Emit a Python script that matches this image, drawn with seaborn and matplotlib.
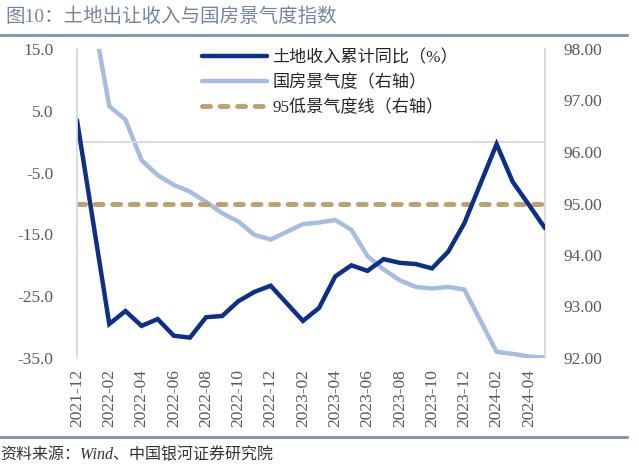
import matplotlib
matplotlib.use('Agg')
import matplotlib.pyplot as plt
import seaborn as sns
import pandas as pd
from matplotlib.lines import Line2D

months = ['2021-12', '2022-01', '2022-02', '2022-03', '2022-04', '2022-05', '2022-06',
          '2022-07', '2022-08', '2022-09', '2022-10', '2022-11', '2022-12',
          '2023-01', '2023-02', '2023-03', '2023-04', '2023-05', '2023-06',
          '2023-07', '2023-08', '2023-09', '2023-10', '2023-11', '2023-12',
          '2024-01', '2024-02', '2024-03', '2024-04', '2024-05']

land_yoy = [3.5, None, -29.5, -27.4, -29.8, -28.7, -31.4, -31.7, -28.4, -28.2, -25.8,
            -24.3, -23.3, None, -29.0, -26.9, -21.8, -20.0, -20.9, -19.0, -19.6, -19.8,
            -20.5, -17.8, -13.2, None, -0.4, -6.5, -10.2, -14.0]

climate_idx = [100.36, None, 96.89, 96.63, 95.84, 95.55, 95.36, 95.23, 95.03, 94.81,
               94.65, 94.39, 94.30, None, 94.60, 94.63, 94.68, 94.49, 93.98, 93.72,
               93.51, 93.38, 93.35, 93.38, 93.33, None, 92.12, 92.08, 92.03, 92.01]

threshold = [95.0] * 30

left_ticks = [-35, -25, -15, -5, 5, 15]
right_ticks = [92, 93, 94, 95, 96, 97, 98]

labels = ['土地收入累计同比（%）', '国房景气度（右轴）', '95低景气度线（右轴）']
title = '图10：土地出让收入与国房景气度指数'
source = '资料来源：Wind、中国银河证券研究院'

sns.set_theme(style='white')
plt.rcParams['font.family'] = ['Liberation Serif', 'Noto Sans CJK SC', 'DejaVu Sans']

df = pd.DataFrame({'pos': list(range(len(months))), 'month': months,
                   'land': land_yoy, 'idx': climate_idx, 'th': threshold})

fig = plt.figure(figsize=(6.39, 4.70), dpi=100)
ax = fig.add_axes([77 / 639, 1 - 358 / 470, 468 / 639, 309 / 470])
ax2 = ax.twinx()
ax.set_zorder(ax2.get_zorder() + 1)
ax.patch.set_visible(False)

DARK = '#0C2F8A'
LIGHT = '#A6BCE2'
TAN = '#BFA06E'
GRID = '#D9D9D9'
TICK = '#595959'

ax.axhline(0, color=GRID, lw=1.3, zorder=0)

sns.lineplot(data=df.dropna(subset=['idx']), x='pos', y='idx', ax=ax2,
             color=LIGHT, lw=3.2, label=labels[1], solid_joinstyle='miter')
sns.lineplot(data=df, x='pos', y='th', ax=ax2, color=TAN, lw=3.5,
             linestyle=(0, (1.65, 1.96)), dash_capstyle='round', label=labels[2])
sns.lineplot(data=df.dropna(subset=['land']), x='pos', y='land', ax=ax,
             color=DARK, lw=3.2, label=labels[0], solid_joinstyle='miter')

for a in (ax, ax2):
    if a.get_legend() is not None:
        a.get_legend().remove()
    a.set_xlabel('')
    a.set_ylabel('')
    a.grid(False)

ax.set_xlim(0, len(months) - 1)
ax.set_ylim(-35, 15)
ax2.set_ylim(92, 98)

ax.set_yticks(left_ticks)
ax.set_yticklabels([f'{v:.1f}' for v in left_ticks])
ax2.set_yticks(right_ticks)
ax2.set_yticklabels([f'{v:.2f}' for v in right_ticks])
ax.set_xticks(df['pos'][::2])
ax.set_xticklabels(df['month'][::2], rotation=90)

ax.tick_params(axis='y', length=0, pad=17, labelsize=12.5, labelcolor=TICK)
ax2.tick_params(axis='y', length=0, pad=13, labelsize=12.5, labelcolor=TICK)
ax.tick_params(axis='x', length=0, pad=8, labelsize=12.5, labelcolor=TICK)

for a in (ax, ax2):
    for s in a.spines.values():
        s.set_visible(False)
ax.spines['left'].set_visible(True)
ax.spines['left'].set_color(GRID)
ax.spines['left'].set_linewidth(1.3)
ax2.spines['right'].set_visible(True)
ax2.spines['right'].set_color(GRID)
ax2.spines['right'].set_linewidth(1.3)

h1, l1 = ax.get_legend_handles_labels()
h2, l2 = ax2.get_legend_handles_labels()
hmap = dict(zip(l1 + l2, h1 + h2))
ax.legend([hmap[l] for l in labels], labels, loc='upper left',
          bbox_to_anchor=(0.268, 0.998), frameon=False,
          handlelength=3.8, handletextpad=0.3, labelspacing=0.5,
          borderaxespad=0, borderpad=0, prop={'size': 12.3})

fig.text(5 / 639, 1 - 17 / 470, title, fontsize=14, color='#7585A1', va='center', ha='left')
fig.add_artist(Line2D([0, 627 / 639], [1 - 35 / 470] * 2, color='#8496B0', lw=2.2))
fig.add_artist(Line2D([0, 627 / 639], [1 - 437 / 470] * 2, color='#8496B0', lw=2.2))
fig.text(0, 1 - 455 / 470, source, fontsize=11.5, style='italic', color='#333333',
         va='center', ha='left')

fig.savefig('out.png', dpi=100)
